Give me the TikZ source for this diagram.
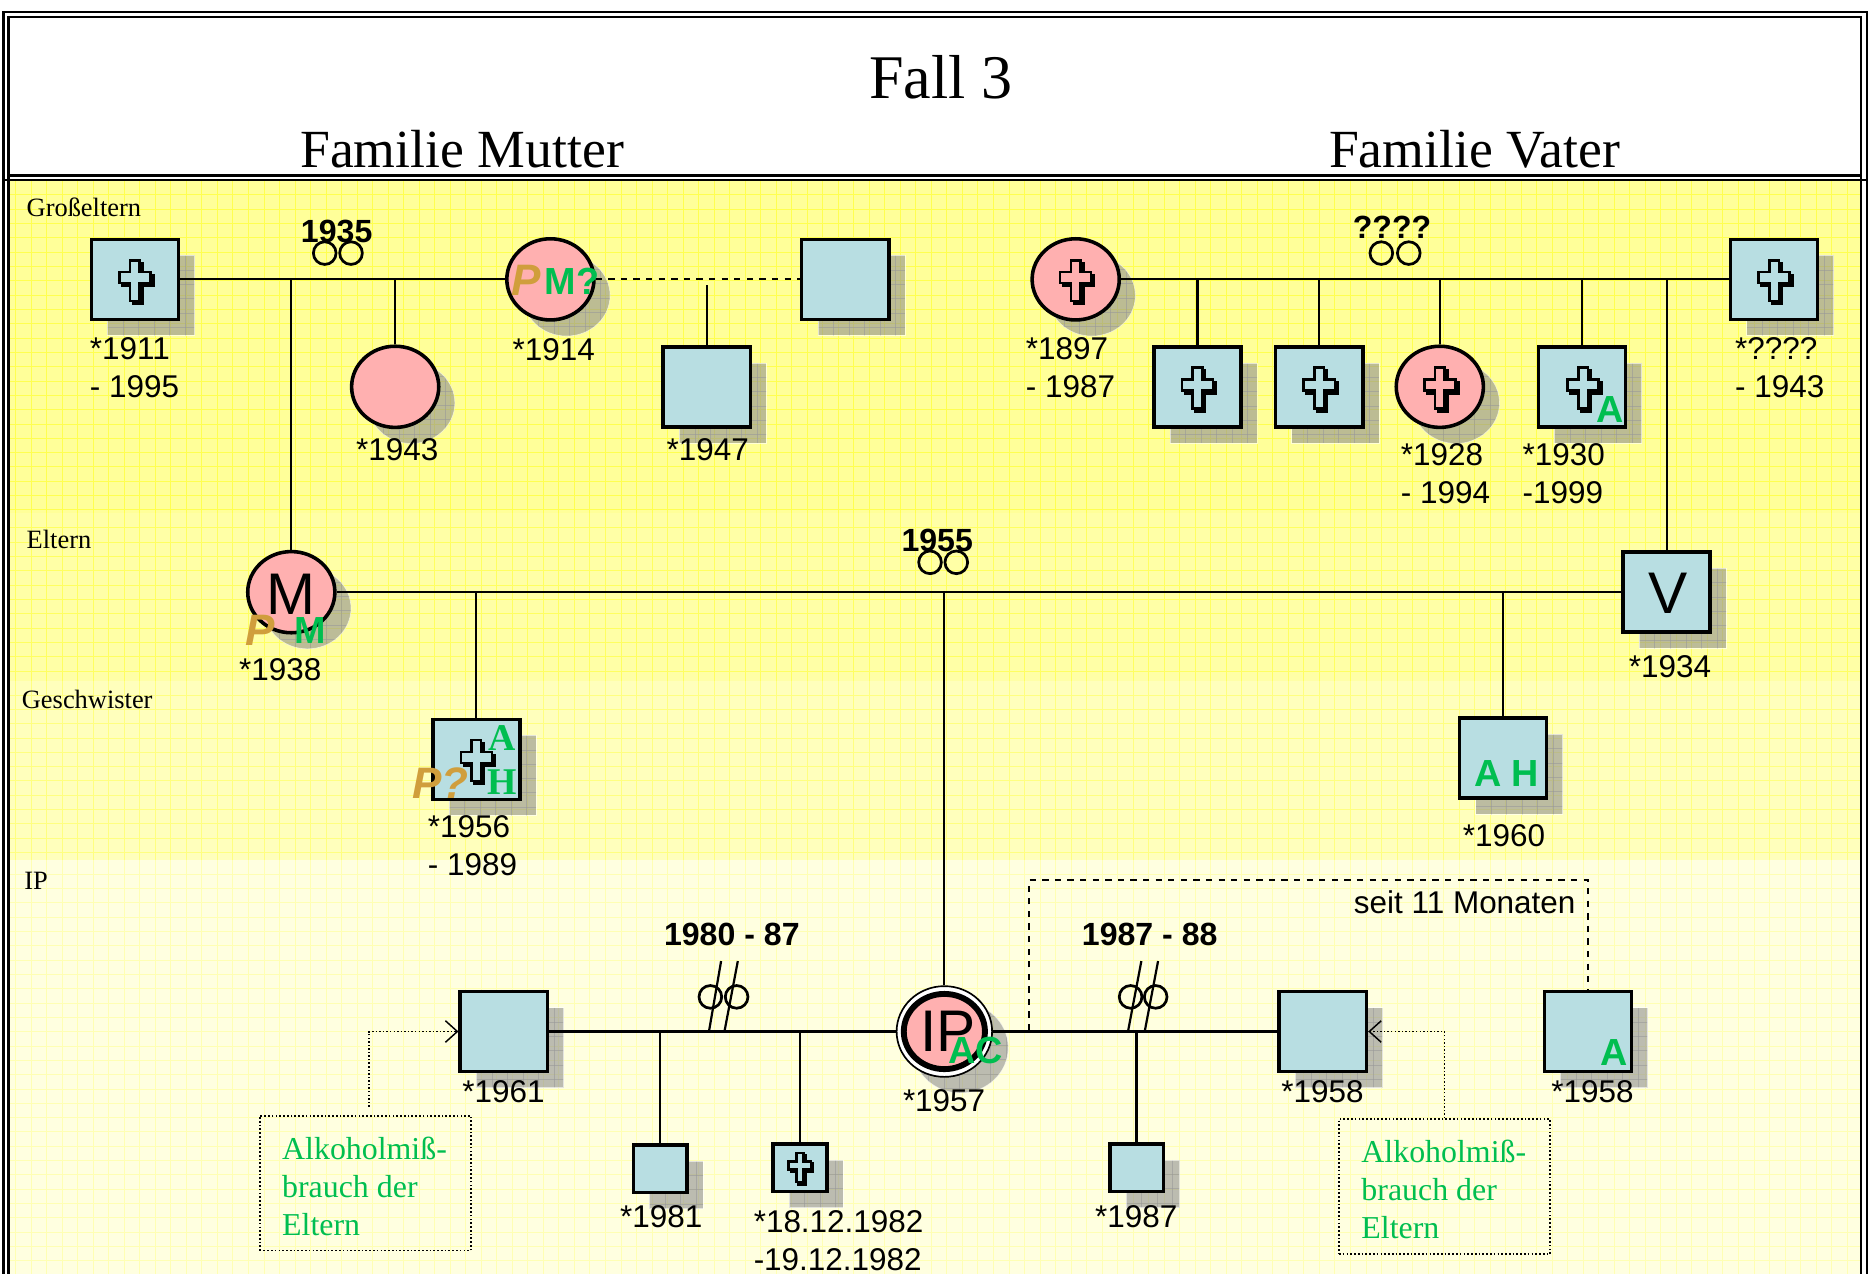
\documentclass[tikz,border=0pt]{standalone}
\usepackage{fontspec}
\setmainfont{Liberation Sans}
\newfontfamily\timesfont{Liberation Serif}
\usetikzlibrary{arrows.meta, positioning, calc, shapes.geometric, shadows}
\definecolor{boxblue}{RGB}{184, 222, 226}
\definecolor{circlepink}{RGB}{255, 176, 176}
\definecolor{shadowgray}{RGB}{144, 144, 144}
\definecolor{markgreen}{RGB}{0, 190, 80}
\definecolor{markorange}{RGB}{208, 158, 60}
\tikzset{
  shadowed/.style={drop shadow={shadow xshift=0.27cm, shadow yshift=-0.27cm, fill=shadowgray, opacity=0.6,
    draw=white, line width=0.3pt,
    path picture={
      \foreach \k in {1,...,7} {
        \draw[black!40, line width=0.25pt] ($(path picture bounding box.north west)+(\k*13,0)$) -- +(0,110);
        \draw[black!40, line width=0.25pt] ($(path picture bounding box.north west)+(0,\k*12)$) -- +(110,0);
      }
    }}},
  crossmark/.pic={
    \filldraw[black, line width=1.2pt, shift={(2.5,2.5)}] (-4,-17) -- (4,-17) -- (4,-7) -- (13,-7) -- (13,2) -- (4,2) -- (4,17) -- (-4,17) -- (-4,2) -- (-13,2) -- (-13,-7) -- (-4,-7) -- cycle;
    \filldraw[draw=black, fill=#1, line width=1.2pt] (-4,-17) -- (4,-17) -- (4,-7) -- (13,-7) -- (13,2) -- (4,2) -- (4,17) -- (-4,17) -- (-4,2) -- (-13,2) -- (-13,-7) -- (-4,-7) -- cycle;
  }
}
\begin{document}
\begin{tikzpicture}[
  x=0.02cm, y=-0.02cm,
  male/.style={rectangle, draw, line width=1.7pt, fill=boxblue, minimum width=1.46cm, minimum height=1.34cm, inner sep=0pt, shadowed},
  smallmale/.style={male, minimum width=0.9cm, minimum height=0.8cm},
  female/.style={ellipse, draw, line width=1.7pt, fill=circlepink, minimum width=1.46cm, minimum height=1.36cm, inner sep=0pt, shadowed},
  rings/.style={circle, draw, line width=1.3pt, minimum size=0.38cm, inner sep=0pt},
  kin/.style={line width=1.05pt},
  dates/.style={font=\fontsize{15}{18.2}\selectfont, align=left, anchor=west, inner sep=0pt},
  years/.style={font=\fontsize{15.3}{18}\selectfont\bfseries, inner sep=0pt},
  rowlabel/.style={font=\fontsize{12.6}{15}\selectfont\timesfont, anchor=west, inner sep=0pt},
  heading/.style={font=\fontsize{25.6}{30}\selectfont\timesfont, inner sep=0pt},
  greenmark/.style={font=\fontsize{18}{20}\selectfont\bfseries, text=markgreen, inner sep=0pt},
  serifmark/.style={font=\fontsize{18}{20}\selectfont\timesfont\bfseries, text=markgreen, inner sep=0pt},
  orangemark/.style={font=\fontsize{21}{22}\selectfont\bfseries\itshape, text=markorange, inner sep=0pt},
  bigletter/.style={font=\fontsize{28}{30}\selectfont, inner sep=0pt},
  notebox/.style={draw, densely dotted, line width=0.8pt, minimum width=3.54cm, minimum height=2.26cm, inner sep=0pt},
  notetext/.style={font=\fontsize{15.2}{18.2}\selectfont\timesfont, text=markgreen, align=left, anchor=west, inner sep=0pt},
  noteline/.style={densely dotted, line width=0.7pt, -{Straight Barb[length=2mm, width=3.6mm]}}
]
\useasboundingbox (0,0) rectangle (1568,1067);
\fill[white] (0,0) rectangle (1568,1067);

% Bands with their grid
\foreach \ya/\yb/\bandcol/\gridcol in {151/430/FFFF99/FFFF50, 430/570/FFFFA6/FFFF60, 570/720/FFFFBC/FFFF80, 720/1067/FFFFE0/FFFFB4} {
  \definecolor{bandcol}{HTML}{\bandcol}
  \definecolor{gridcol}{HTML}{\gridcol}
  \fill[bandcol] (7,\ya) rectangle (1559,\yb);
  \foreach \gx in {13,26,...,1559} {\draw[gridcol, line width=0.3pt] (\gx,\ya) -- (\gx,\yb);}
  \pgfmathtruncatemacro{\gfirst}{\ya+12}
  \pgfmathtruncatemacro{\gsecond}{\ya+24}
  \foreach \gy in {\gfirst,\gsecond,...,\yb} {\draw[gridcol, line width=0.3pt] (7,\gy) -- (1559,\gy);}
}

% Frame
\draw[line width=1.1pt] (3,1067) |- (1564,10) -- (1564,1067);
\draw[line width=1.1pt] (7,1067) |- (1559,14) -- (1559,1067);
\draw[line width=1.1pt] (7,147) -- (1559,147);
\draw[line width=1.1pt] (3,151) -- (1564,151);

% Headings
\node[font=\fontsize{29.6}{34}\selectfont\timesfont, inner sep=0pt] (title) at (788,65) {Fall 3};
\node[heading] (famm) at (387,125) {Familie Mutter};
\node[heading] (famv) at (1235,125) {Familie Vater};
\node[rowlabel] (rowg) at (22,174) {Großeltern};
\node[rowlabel] (rowe) at (22,452) {Eltern};
\node[rowlabel] (rowk) at (18,586) {Geschwister};
\node[rowlabel] (rowi) at (20,738) {IP};

% Grandparents, mother's side
\node[male] (gfm) at (113,234) {};
\pic at (113,235) {crossmark=boxblue};
\node[female] (gmm) at (461,234) {};
\node[male] (other) at (708,234) {};
\node[female] (aunt) at (331,324) {};
\node[male] (cousin) at (592,324) {};
\node[dates] (gfmlab) at (75,308) {*1911\\- 1995};
\node[dates] (gmmlab) at (429,293) {*1914};
\node[dates] (auntlab) at (298,377) {*1943};
\node[dates] (cousinlab) at (558,377) {*1947};
\node[orangemark] (gmmp) at (441,235) {P};
\node[greenmark] (gmmm) at (479,236) {M?};

% Grandparents, father's side
\node[female] (gmv) at (901,234) {};
\pic at (901,235) {crossmark=circlepink};
\node[male] (gfv) at (1486,234) {};
\pic at (1486,235) {crossmark=boxblue};
\node[male] (unc1) at (1003,324) {};
\pic at (1003,325) {crossmark=boxblue};
\node[male] (unc2) at (1105,324) {};
\pic at (1105,325) {crossmark=boxblue};
\node[female] (tante) at (1206,324) {};
\pic at (1206,325) {crossmark=circlepink};
\node[male] (unc3) at (1325,324) {};
\pic at (1326,325) {crossmark=boxblue};
\node[greenmark] (unc3a) at (1349,343) {A};
\node[dates] (gmvlab) at (859,308) {*1897\\- 1987};
\node[dates] (gfvlab) at (1453,308) {*????\\- 1943};
\node[dates] (tantelab) at (1173,397) {*1928\\- 1994};
\node[dates] (unc3lab) at (1275,397) {*1930\\-1999};

% Parents and siblings
\node[female] (mother) at (244,496) {};
\node[bigletter] (motherm) at (244,498) {M};
\node[orangemark] (motherp) at (218,528) {P};
\node[greenmark] (motherg) at (260,528) {M};
\node[male] (father) at (1396,496) {};
\node[bigletter] (fatherv) at (1397,497) {V};
\node[dates] (motherlab) at (200,561) {*1938};
\node[dates] (fatherlab) at (1364,558) {*1934};
\node[male] (bro) at (399,636) {};
\pic at (399,637) {crossmark=boxblue};
\node[serifmark] (broa) at (421,618) {A};
\node[serifmark] (broh) at (421,655) {H};
\node[orangemark] (brop) at (369,656) {P?};
\node[dates] (brolab) at (358,708) {*1956\\- 1989};
\node[male] (sis) at (1259,635) {};
\node[greenmark] (sisa) at (1262,648) {A H};
\node[dates] (sislab) at (1225,700) {*1960};

% IP and partners
\node[ellipse, draw, line width=0.8pt, fill=white, minimum width=1.6cm, minimum height=1.52cm, inner sep=0pt, shadowed] (ipring) at (791,864) {};
\node[ellipse, draw, line width=2.8pt, fill=circlepink, minimum width=1.36cm, minimum height=1.26cm, inner sep=0pt] (ip) at (791,864) {};
\node[bigletter] (iptext) at (794,864) {IP};
\node[greenmark] (ipac) at (817,880) {AC};
\node[dates] (iplab) at (756,922) {*1957};
\node[male] (ex1) at (422,864) {};
\node[male] (ex2) at (1108,864) {};
\node[male] (partner) at (1330,864) {};
\node[greenmark] (partnera) at (1352,882) {A};
\node[smallmale] (kid1) at (553,979) {};
\node[smallmale] (kid2) at (670,978) {};
\pic[scale=0.72] at (670,978) {crossmark=boxblue};
\node[smallmale] (kid3) at (952,978) {};
\node[dates] (ex1lab) at (387,914) {*1961};
\node[dates] (ex2lab) at (1073,914) {*1958};
\node[dates] (partnerlab) at (1299,914) {*1958};
\node[dates] (kid1lab) at (519,1019) {*1981};
\node[dates] (kid2lab) at (631,1039) {*18.12.1982\\-19.12.1982};
\node[dates] (kid3lab) at (917,1019) {*1987};

% Marriage years and rings
\node[years] (y1935) at (282,194) {1935};
\node[rings] (r1a) at (272,212) {};
\node[rings] (r1b) at (294,212) {};
\node[years] (yq) at (1166,190) {????};
\node[rings] (r2a) at (1157,212) {};
\node[rings] (r2b) at (1180,212) {};
\node[years] (y1955) at (785,453) {1955};
\node[rings] (r3a) at (779,471) {};
\node[rings] (r3b) at (801,471) {};
\node[years] (y1980) at (613,783) {1980 - 87};
\node[rings] (r4a) at (595,835) {};
\node[rings] (r4b) at (617,835) {};
\node[years] (y1987) at (963,783) {1987 - 88};
\node[rings] (r5a) at (947,835) {};
\node[rings] (r5b) at (968,835) {};

% Family lines
\draw[kin] (gfm) -- (gmm);
\draw[kin, dashed] (gmm) -- (other);
\draw[kin] (gmv) -- (gfv);
\draw[kin] (mother) -- (father);
\draw[kin] (ex1) -- (ipring);
\draw[kin] (ipring) -- (ex2);
\draw[kin] (mother.north) -- (mother.north |- gfm.east);
\draw[kin] (aunt.north) -- (aunt.north |- gfm.east);
\coordinate (cousintop) at (592,239);
\draw[kin] (cousin.north) -- (cousintop);
\foreach \who in {unc1, unc2, tante, unc3, father} {
  \draw[kin] (\who.north) -- (\who.north |- gfv.west);
}
\foreach \who in {bro, sis} {
  \draw[kin] (\who.north) -- (\who.north |- mother.east);
}
\draw[kin] (ipring.north) -- (ipring.north |- mother.east);
\foreach \who in {kid1, kid2, kid3} {
  \draw[kin] (\who.north) -- (\who.north |- ex1.east);
}

% Divorce strokes
\coordinate (s1a) at (604,805); \coordinate (s1b) at (594,863);
\coordinate (s2a) at (618,805); \coordinate (s2b) at (607,863);
\coordinate (s3a) at (956,805); \coordinate (s3b) at (945,863);
\coordinate (s4a) at (970,805); \coordinate (s4b) at (959,863);
\draw[kin] (s1a) -- (s1b);
\draw[kin] (s2a) -- (s2b);
\draw[kin] (s3a) -- (s3b);
\draw[kin] (s4a) -- (s4b);

% Current partner
\coordinate (partnerstart) at (862,863);
\coordinate (partnercorner) at (862,737);
\draw[kin, dashed] (partnerstart) -- (partnercorner) -| (partner.north);
\node[dates, anchor=east] (seit) at (1320,756) {seit 11 Monaten};

% Notes
\node[notebox] (note1) at (306,991) {};
\node[notetext] (note1text) at (236,994) {Alkoholmiß-\\brauch der\\Eltern};
\node[notebox] (note2) at (1210,994) {};
\node[notetext] (note2text) at (1140,996) {Alkoholmiß-\\brauch der\\Eltern};
\coordinate (note1start) at (309,927);
\draw[noteline] (note1start) |- (ex1.west);
\draw[noteline] (note2.north) |- (ex2.east);
\end{tikzpicture}
\end{document}
